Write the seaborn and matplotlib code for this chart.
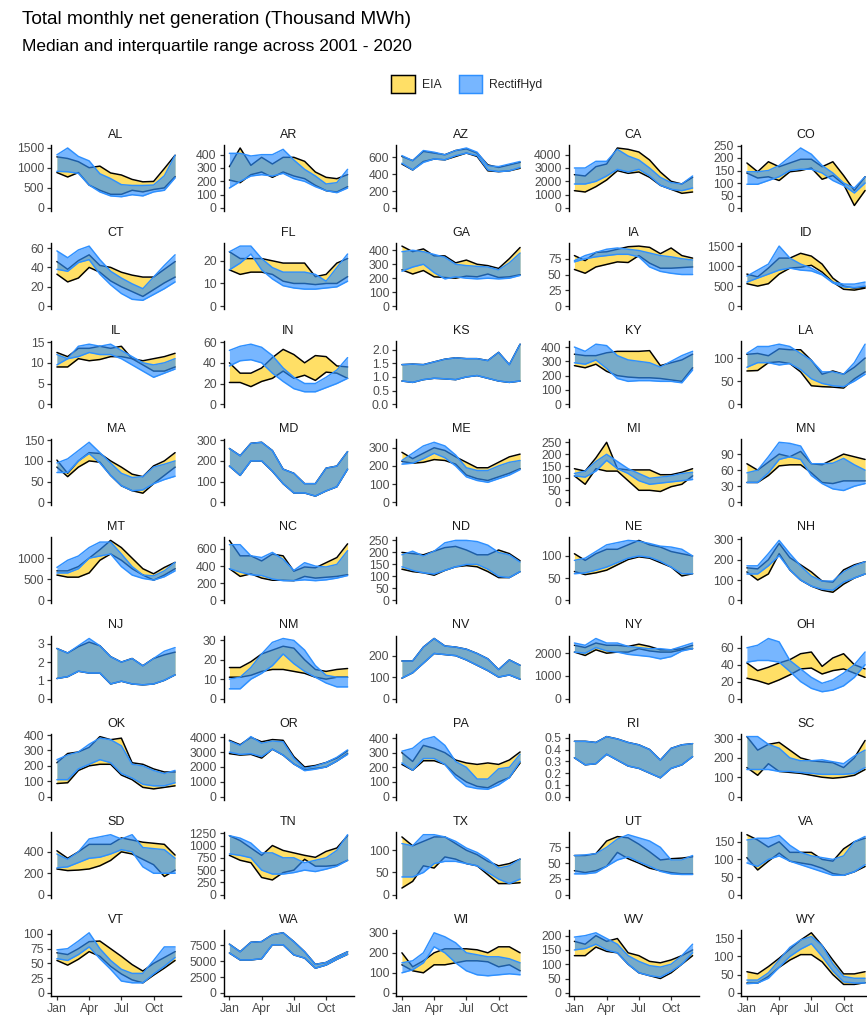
import numpy as np
import pandas as pd
import matplotlib
matplotlib.use("Agg")
import matplotlib.pyplot as plt
from matplotlib.colors import to_rgba
from matplotlib.patches import Patch
import seaborn as sns

# ---------------------------------------------------------------------------
# data: interquartile range (low / high) of monthly net generation, 2001-2020
# ---------------------------------------------------------------------------
MONTHS = list(range(1, 13))
MONTH_TICKS = [1, 4, 7, 10]
MONTH_LABELS = ["Jan", "Apr", "Jul", "Oct"]

STATES = ["AL", "AR", "AZ", "CA", "CO",
          "CT", "FL", "GA", "IA", "ID",
          "IL", "IN", "KS", "KY", "LA",
          "MA", "MD", "ME", "MI", "MN",
          "MT", "NC", "ND", "NE", "NH",
          "NJ", "NM", "NV", "NY", "OH",
          "OK", "OR", "PA", "RI", "SC",
          "SD", "TN", "TX", "UT", "VA",
          "VT", "WA", "WI", "WV", "WY"]

EIA_LO = {
    "AL": [880, 770, 880, 570, 440, 340, 340, 440, 400, 460, 500, 780],
    "AR": [210, 190, 250, 270, 230, 270, 240, 220, 170, 130, 120, 160],
    "AZ": [520, 450, 550, 580, 570, 610, 650, 610, 440, 430, 440, 470],
    "CA": [1300, 1200, 1600, 2100, 2800, 2600, 2700, 2300, 1700, 1400, 1100, 1200],
    "CO": [140, 120, 125, 110, 145, 150, 160, 115, 130, 95, 10, 70],
    "CT": [33, 25, 29, 40, 35, 26, 20, 15, 10, 17, 24, 30],
    "FL": [16, 14, 15, 15, 14, 11, 10, 10, 9.5, 10, 10, 13],
    "GA": [260, 230, 255, 210, 205, 200, 215, 210, 230, 205, 210, 225],
    "IA": [58, 52, 62, 66, 70, 69, 80, 68, 60, 60, 61, 62],
    "ID": [560, 500, 560, 800, 950, 970, 1020, 850, 600, 420, 400, 450],
    "IL": [9, 9, 11, 10.5, 10.8, 11.5, 11.5, 11, 9.5, 8, 8, 9],
    "IN": [21, 21, 17, 22, 25, 32, 25, 28, 23, 31, 30, 25],
    "KS": [0.85, 0.8, 0.9, 0.95, 0.93, 0.9, 1.0, 1.05, 0.95, 0.85, 0.8, 0.85],
    "KY": [270, 255, 280, 230, 200, 190, 185, 185, 180, 170, 160, 255],
    "LA": [72, 73, 90, 92, 88, 70, 40, 38, 37, 35, 55, 70],
    "MA": [85, 62, 85, 100, 97, 65, 40, 28, 22, 45, 65, 85],
    "MD": [175, 130, 200, 200, 150, 90, 45, 45, 30, 55, 75, 160],
    "ME": [225, 215, 220, 235, 230, 210, 150, 130, 120, 140, 160, 185],
    "MI": [110, 75, 140, 130, 130, 90, 50, 50, 45, 65, 75, 110],
    "MN": [37, 37, 50, 68, 70, 70, 55, 37, 35, 40, 40, 40],
    "MT": [600, 550, 550, 650, 950, 1100, 950, 750, 600, 480, 600, 750],
    "NC": [370, 280, 310, 260, 235, 235, 230, 280, 260, 270, 280, 300],
    "ND": [130, 120, 115, 105, 125, 140, 145, 140, 120, 95, 95, 120],
    "NE": [65, 58, 62, 68, 80, 92, 98, 95, 85, 75, 55, 60],
    "NH": [140, 100, 130, 230, 150, 100, 70, 50, 40, 80, 110, 130],
    "NJ": [1.1, 1.2, 1.5, 1.4, 1.4, 0.8, 0.95, 0.8, 0.75, 0.8, 1.0, 1.3],
    "NM": [11, 11, 12, 14, 15, 15, 14, 13, 11, 10, 11, 11],
    "NV": [95, 120, 165, 210, 205, 200, 180, 155, 130, 100, 110, 90],
    "NY": [2050, 1900, 2150, 2000, 2050, 2050, 2200, 2100, 2050, 2050, 2150, 2200],
    "OH": [24, 21, 17, 22, 28, 35, 36, 29, 33, 35, 30, 25],
    "OK": [85, 90, 170, 200, 210, 210, 140, 110, 60, 50, 60, 70],
    "OR": [2900, 2800, 2850, 2600, 3200, 2800, 2200, 1800, 1900, 2000, 2400, 2900],
    "PA": [220, 180, 245, 245, 220, 150, 100, 70, 60, 100, 130, 230],
    "RI": [0.33, 0.27, 0.28, 0.36, 0.31, 0.26, 0.24, 0.20, 0.16, 0.24, 0.27, 0.34],
    "SC": [150, 110, 170, 130, 125, 120, 110, 100, 95, 100, 110, 140],
    "SD": [240, 225, 230, 240, 270, 320, 400, 380, 330, 280, 170, 230],
    "TN": [800, 700, 650, 350, 300, 450, 500, 720, 580, 580, 600, 700],
    "TX": [15, 30, 65, 60, 85, 80, 70, 65, 45, 25, 25, 27],
    "UT": [38, 35, 38, 45, 67, 57, 50, 42, 38, 35, 33, 33],
    "VA": [105, 70, 95, 118, 95, 90, 85, 75, 60, 55, 65, 80],
    "VT": [55, 47, 57, 70, 62, 45, 32, 22, 17, 30, 42, 55],
    "WA": [6300, 5200, 5200, 5400, 7600, 7600, 6000, 5500, 3900, 4400, 5300, 6100],
    "WI": [140, 110, 100, 140, 140, 150, 160, 160, 155, 130, 140, 110],
    "WV": [130, 130, 160, 145, 140, 100, 70, 60, 50, 70, 100, 130],
    "WY": [27, 27, 45, 70, 90, 105, 105, 85, 50, 23, 23, 28],
}

EIA_HI = {
    "AL": [1270, 1230, 1150, 1000, 1040, 870, 820, 710, 650, 660, 980, 1310],
    "AR": [310, 450, 320, 380, 330, 380, 380, 350, 270, 230, 220, 250],
    "AZ": [610, 560, 670, 650, 630, 680, 700, 650, 510, 480, 510, 540],
    "CA": [2500, 2400, 3100, 3300, 4500, 4400, 4200, 3600, 2700, 2000, 1800, 2300],
    "CO": [180, 145, 185, 165, 180, 195, 195, 165, 185, 130, 70, 125],
    "CT": [46, 38, 47, 53, 42, 40, 35, 32, 30, 30, 38, 46],
    "FL": [24, 21, 21, 21, 20, 19, 19, 19, 13, 14, 19, 21],
    "GA": [430, 390, 410, 360, 360, 310, 330, 300, 290, 270, 340, 420],
    "IA": [80, 72, 85, 86, 90, 94, 95, 93, 83, 92, 80, 76],
    "ID": [800, 730, 950, 1200, 1200, 1320, 1250, 1050, 700, 500, 450, 480],
    "IL": [12.5, 11.5, 13.5, 13.5, 14, 13.5, 14, 11, 10.5, 11, 11.5, 12.3],
    "IN": [40, 30, 30, 35, 45, 53, 48, 40, 47, 46, 37, 36],
    "KS": [1.45, 1.47, 1.45, 1.55, 1.65, 1.7, 1.67, 1.67, 1.6, 1.9, 1.45, 2.2],
    "KY": [350, 340, 340, 360, 370, 370, 370, 375, 270, 290, 310, 350],
    "LA": [108, 110, 105, 120, 118, 118, 95, 65, 72, 65, 80, 100],
    "MA": [102, 70, 100, 120, 118, 100, 85, 68, 62, 88, 100, 120],
    "MD": [260, 225, 285, 290, 250, 160, 140, 90, 90, 165, 175, 245],
    "ME": [275, 240, 270, 300, 285, 250, 220, 190, 190, 220, 250, 265],
    "MI": [140, 130, 185, 250, 140, 135, 135, 135, 115, 115, 125, 140],
    "MN": [72, 60, 75, 90, 85, 95, 72, 70, 80, 90, 85, 80],
    "MT": [700, 700, 800, 1000, 1200, 1420, 1250, 1000, 750, 630, 780, 900],
    "NC": [700, 520, 520, 460, 540, 520, 340, 390, 380, 440, 500, 660],
    "ND": [200, 195, 190, 205, 220, 225, 210, 190, 190, 210, 195, 165],
    "NE": [105, 90, 105, 115, 115, 125, 135, 125, 120, 110, 105, 100],
    "NH": [160, 155, 200, 280, 210, 175, 140, 95, 90, 150, 175, 190],
    "NJ": [2.75, 2.5, 2.85, 3.1, 2.9, 2.3, 2.0, 2.2, 1.8, 2.2, 2.4, 2.55],
    "NM": [16, 16, 19, 23, 25, 27, 26, 20, 15, 14, 15, 15.5],
    "NV": [175, 175, 240, 280, 245, 240, 230, 210, 185, 135, 180, 155],
    "NY": [2350, 2250, 2450, 2350, 2350, 2300, 2400, 2300, 2150, 2150, 2200, 2350],
    "OH": [42, 33, 37, 42, 46, 53, 55, 38, 48, 53, 40, 35],
    "OK": [220, 280, 290, 320, 390, 370, 380, 220, 210, 180, 160, 160],
    "OR": [3800, 3500, 4000, 3700, 3850, 3800, 2700, 2000, 2100, 2300, 2600, 3100],
    "PA": [300, 240, 350, 330, 300, 250, 230, 220, 230, 220, 250, 305],
    "RI": [0.47, 0.47, 0.46, 0.51, 0.49, 0.46, 0.44, 0.40, 0.31, 0.41, 0.44, 0.45],
    "SC": [310, 240, 270, 280, 240, 200, 185, 180, 175, 150, 200, 290],
    "SD": [410, 340, 400, 470, 470, 470, 530, 510, 490, 480, 470, 370],
    "TN": [1200, 1100, 950, 800, 1000, 900, 850, 800, 760, 880, 950, 1200],
    "TX": [130, 110, 120, 130, 130, 115, 100, 90, 75, 65, 70, 80],
    "UT": [62, 62, 65, 85, 92, 90, 80, 68, 55, 57, 58, 60],
    "VA": [170, 155, 135, 150, 120, 120, 120, 100, 95, 130, 150, 160],
    "VT": [68, 65, 75, 87, 88, 75, 62, 48, 37, 50, 60, 70],
    "WA": [7700, 6500, 8000, 8100, 9200, 9500, 8100, 6500, 4500, 4800, 5700, 6500],
    "WI": [200, 130, 160, 200, 220, 220, 220, 215, 200, 230, 230, 200],
    "WV": [180, 170, 200, 180, 190, 140, 130, 110, 105, 115, 130, 150],
    "WY": [58, 52, 72, 95, 120, 145, 165, 130, 90, 52, 52, 58],
}

RH_LO = {
    "AL": [910, 900, 860, 570, 400, 300, 280, 330, 300, 400, 440, 750],
    "AR": [150, 200, 240, 250, 240, 260, 220, 200, 160, 130, 115, 150],
    "AZ": [530, 450, 540, 580, 570, 620, 650, 620, 450, 430, 440, 480],
    "CA": [1800, 1800, 2000, 2400, 2900, 2700, 2900, 2400, 1700, 1400, 1300, 1500],
    "CO": [95, 95, 110, 125, 150, 155, 155, 140, 110, 90, 60, 100],
    "CT": [38, 36, 45, 48, 33, 22, 13, 7, 6, 12, 18, 25],
    "FL": [16, 19, 23, 16, 12, 9, 8, 7.5, 7.5, 8, 8.5, 11],
    "GA": [250, 280, 300, 240, 195, 210, 200, 195, 200, 195, 200, 220],
    "IA": [70, 75, 78, 80, 82, 82, 78, 62, 55, 52, 50, 50],
    "ID": [600, 700, 800, 900, 950, 900, 880, 780, 580, 480, 460, 500],
    "IL": [9.5, 11, 11.5, 12.5, 12, 12, 11, 9.5, 8, 6.5, 7.5, 8.5],
    "IN": [37, 42, 43, 40, 30, 22, 15, 12, 12, 16, 20, 25],
    "KS": [0.85, 0.8, 0.9, 0.95, 0.93, 0.9, 1.0, 1.05, 0.95, 0.85, 0.8, 0.85],
    "KY": [290, 280, 310, 250, 180, 160, 165, 165, 160, 160, 150, 240],
    "LA": [80, 90, 90, 85, 88, 75, 55, 45, 40, 38, 50, 65],
    "MA": [72, 72, 100, 118, 95, 65, 40, 28, 30, 45, 55, 63],
    "MD": [175, 130, 200, 200, 150, 90, 45, 45, 30, 55, 75, 160],
    "ME": [210, 215, 240, 270, 245, 200, 140, 120, 110, 130, 150, 180],
    "MI": [110, 105, 130, 175, 140, 120, 90, 75, 80, 85, 90, 95],
    "MN": [37, 37, 55, 80, 85, 80, 50, 35, 25, 22, 30, 35],
    "MT": [650, 650, 750, 1000, 1050, 1100, 800, 600, 520, 480, 560, 700],
    "NC": [370, 330, 300, 290, 250, 230, 230, 240, 230, 240, 260, 290],
    "ND": [140, 125, 115, 110, 125, 140, 150, 150, 130, 100, 95, 120],
    "NE": [60, 62, 68, 75, 85, 95, 100, 97, 88, 75, 60, 60],
    "NH": [130, 130, 170, 220, 150, 100, 70, 55, 50, 90, 110, 130],
    "NJ": [1.1, 1.2, 1.5, 1.4, 1.4, 0.8, 0.95, 0.8, 0.75, 0.8, 1.0, 1.3],
    "NM": [5, 5, 10, 13, 17, 23, 18, 14, 11, 8, 6, 6],
    "NV": [95, 120, 165, 210, 205, 200, 180, 155, 130, 100, 110, 90],
    "NY": [2050, 2000, 2250, 2100, 2050, 1950, 1900, 1850, 1750, 1850, 2100, 2200],
    "OH": [43, 45, 45, 43, 32, 20, 12, 8, 10, 15, 25, 40],
    "OK": [110, 110, 180, 210, 240, 220, 150, 120, 80, 70, 70, 90],
    "OR": [3000, 2850, 2900, 2700, 3200, 2800, 2200, 1750, 1850, 2000, 2400, 2850],
    "PA": [230, 180, 260, 260, 220, 130, 70, 55, 50, 80, 130, 240],
    "RI": [0.33, 0.27, 0.28, 0.36, 0.31, 0.26, 0.24, 0.20, 0.16, 0.24, 0.27, 0.34],
    "SC": [140, 140, 140, 130, 130, 125, 120, 115, 115, 115, 120, 150],
    "SD": [250, 260, 300, 340, 350, 380, 420, 400, 260, 200, 200, 200],
    "TN": [830, 800, 750, 500, 420, 420, 450, 500, 470, 520, 580, 700],
    "TX": [40, 40, 50, 70, 75, 75, 70, 65, 50, 35, 25, 35],
    "UT": [33, 33, 35, 45, 55, 60, 52, 45, 37, 33, 32, 32],
    "VA": [90, 80, 100, 110, 95, 85, 75, 65, 55, 55, 65, 85],
    "VT": [58, 55, 65, 78, 58, 40, 20, 17, 17, 32, 45, 60],
    "WA": [6300, 5200, 5200, 5400, 7600, 7600, 6000, 5500, 3900, 4400, 5300, 6100],
    "WI": [100, 115, 150, 230, 200, 150, 110, 90, 85, 90, 95, 90],
    "WV": [150, 155, 170, 150, 140, 100, 70, 60, 55, 75, 100, 140],
    "WY": [25, 27, 40, 70, 100, 120, 135, 100, 60, 30, 27, 27],
}

RH_HI = {
    "AL": [1320, 1490, 1280, 1170, 850, 730, 580, 560, 560, 570, 800, 1310],
    "AR": [410, 410, 390, 400, 400, 440, 360, 290, 240, 180, 190, 290],
    "AZ": [620, 560, 680, 660, 630, 680, 710, 660, 500, 490, 520, 550],
    "CA": [3000, 3000, 3500, 3500, 4400, 3900, 3600, 3000, 2300, 1900, 1800, 2400],
    "CO": [145, 145, 150, 170, 205, 240, 215, 170, 140, 100, 80, 125],
    "CT": [57, 50, 58, 62, 48, 36, 29, 23, 18, 30, 42, 53],
    "FL": [24, 26.5, 26.5, 21, 17, 15, 15, 15, 14, 11, 17, 23],
    "GA": [390, 400, 390, 370, 350, 300, 290, 285, 280, 260, 310, 380],
    "IA": [72, 80, 85, 90, 92, 90, 88, 84, 80, 78, 75, 73],
    "ID": [750, 900, 1050, 1500, 1200, 1050, 950, 800, 600, 550, 550, 600],
    "IL": [12, 11, 14, 14.5, 14, 14.5, 13, 11.5, 10, 9.5, 10, 11],
    "IN": [52, 56, 58, 55, 47, 35, 26, 20, 20, 26, 33, 45],
    "KS": [1.45, 1.47, 1.45, 1.55, 1.65, 1.7, 1.67, 1.67, 1.6, 1.9, 1.45, 2.2],
    "KY": [400, 370, 420, 410, 340, 310, 300, 290, 260, 300, 340, 370],
    "LA": [110, 125, 125, 130, 125, 110, 95, 70, 70, 65, 90, 130],
    "MA": [95, 105, 125, 145, 120, 95, 70, 60, 62, 85, 92, 100],
    "MD": [260, 225, 285, 290, 250, 160, 140, 90, 90, 165, 175, 245],
    "ME": [230, 270, 310, 330, 310, 260, 190, 175, 175, 200, 220, 230],
    "MI": [120, 130, 170, 200, 170, 140, 120, 100, 105, 110, 120, 125],
    "MN": [55, 60, 85, 112, 110, 105, 72, 72, 73, 82, 70, 60],
    "MT": [780, 950, 1050, 1250, 1380, 1380, 1100, 800, 600, 580, 700, 900],
    "NC": [650, 650, 520, 500, 560, 480, 350, 440, 400, 390, 420, 580],
    "ND": [190, 205, 185, 205, 240, 250, 250, 245, 230, 200, 190, 160],
    "NE": [90, 95, 110, 125, 130, 135, 133, 128, 122, 120, 115, 100],
    "NH": [170, 170, 230, 295, 230, 170, 120, 95, 95, 140, 170, 190],
    "NJ": [2.75, 2.5, 2.9, 3.3, 2.9, 2.3, 2.0, 2.2, 1.8, 2.2, 2.6, 2.8],
    "NM": [10, 11, 16, 23, 29, 31, 30, 25, 17, 12, 11, 11],
    "NV": [175, 175, 240, 280, 245, 240, 230, 210, 185, 135, 180, 155],
    "NY": [2450, 2350, 2650, 2450, 2450, 2300, 2250, 2200, 2200, 2150, 2300, 2450],
    "OH": [60, 63, 71, 67, 45, 35, 25, 18, 22, 30, 40, 55],
    "OK": [240, 270, 290, 340, 380, 370, 330, 210, 200, 170, 150, 170],
    "OR": [3750, 3450, 4050, 3600, 3750, 3700, 2600, 1900, 2050, 2300, 2650, 3150],
    "PA": [310, 330, 390, 410, 350, 240, 200, 120, 120, 190, 200, 290],
    "RI": [0.47, 0.47, 0.46, 0.51, 0.49, 0.46, 0.44, 0.40, 0.31, 0.41, 0.44, 0.45],
    "SC": [310, 310, 270, 250, 200, 185, 185, 190, 180, 170, 210, 240],
    "SD": [380, 330, 400, 520, 540, 560, 520, 560, 440, 430, 420, 340],
    "TN": [1200, 1150, 1050, 850, 850, 750, 750, 650, 700, 750, 900, 1220],
    "TX": [115, 110, 135, 135, 130, 120, 105, 95, 80, 60, 65, 80],
    "UT": [62, 63, 65, 75, 88, 95, 90, 85, 75, 55, 55, 62],
    "VA": [155, 160, 160, 168, 140, 120, 110, 105, 100, 110, 150, 165],
    "VT": [73, 75, 88, 102, 75, 55, 40, 33, 33, 55, 78, 78],
    "WA": [7700, 6500, 8000, 8100, 9200, 9500, 8100, 6500, 4500, 4800, 5700, 6500],
    "WI": [150, 160, 200, 300, 280, 250, 200, 190, 180, 180, 170, 150],
    "WV": [195, 200, 210, 190, 170, 130, 110, 95, 90, 100, 130, 170],
    "WY": [35, 35, 55, 90, 125, 145, 155, 130, 80, 45, 40, 40],
}

# y-axis break spacing of each free-scaled panel
YSTEP = {
    "AL": 500, "AR": 100, "AZ": 200, "CA": 1000, "CO": 50,
    "CT": 20, "FL": 10, "GA": 100, "IA": 25, "ID": 500,
    "IL": 5, "IN": 20, "KS": 0.5, "KY": 100, "LA": 50,
    "MA": 50, "MD": 100, "ME": 100, "MI": 50, "MN": 30,
    "MT": 500, "NC": 200, "ND": 50, "NE": 50, "NH": 100,
    "NJ": 1, "NM": 10, "NV": 100, "NY": 1000, "OH": 20,
    "OK": 100, "OR": 1000, "PA": 100, "RI": 0.1, "SC": 100,
    "SD": 200, "TN": 250, "TX": 50, "UT": 25, "VA": 50,
    "VT": 25, "WA": 2500, "WI": 100, "WV": 50, "WY": 50,
}

YELLOW = "#FFDF66"
BLUE = "#2E90FF"
BLUE_ALPHA = 0.65

# ---------------------------------------------------------------------------
W, H = 867, 1015
sns.set_theme(style="white")
plt.rcParams["font.family"] = ["Liberation Sans", "DejaVu Sans"]

fig = plt.figure(figsize=(W / 100, H / 100), dpi=100)

# panel geometry in pixels (facet_wrap, 5 columns, right column runs off the canvas)
COL_X0, COL_PITCH, PANEL_W = 51, 172.5, 130
ROW_Y0, ROW_PITCH, PANEL_H = 145, 98.1, 66


def ribbon(ax, lo, hi, fill, alpha, edge, z):
    ax.fill_between(MONTHS, lo, hi, color=fill, alpha=alpha, lw=0, zorder=z)
    d = pd.DataFrame({"month": MONTHS * 2,
                      "value": list(lo) + list(hi),
                      "edge": ["lo"] * 12 + ["hi"] * 12})
    sns.lineplot(data=d, x="month", y="value", units="edge", estimator=None,
                 color=edge, lw=1.07, zorder=z + 0.5, ax=ax)


for i, st in enumerate(STATES):
    r, c = divmod(i, 5)
    left = COL_X0 + c * COL_PITCH
    top = ROW_Y0 + r * ROW_PITCH
    ax = fig.add_axes([left / W, 1 - (top + PANEL_H) / H, PANEL_W / W, PANEL_H / H])

    ribbon(ax, EIA_LO[st], EIA_HI[st], YELLOW, 1.0, "black", 1)
    ribbon(ax, RH_LO[st], RH_HI[st], BLUE, BLUE_ALPHA, BLUE, 3)

    ymax = max(max(EIA_HI[st]), max(RH_HI[st]))
    ax.set_xlim(0.45, 12.55)
    ax.set_ylim(-0.05 * ymax, 1.05 * ymax)

    step = YSTEP[st]
    ticks = np.arange(0, 1.05 * ymax + 1e-9, step)
    ax.set_yticks(ticks)
    if step < 1:
        ax.set_yticklabels([f"{t:.1f}" for t in ticks])
    else:
        ax.set_yticklabels([f"{t:g}" for t in ticks])

    ax.set_xlabel("")
    ax.set_ylabel("")
    for side in ["top", "right"]:
        ax.spines[side].set_visible(False)
    ax.spines["left"].set_color("black")
    ax.spines["left"].set_linewidth(1.0)
    ax.tick_params(axis="y", length=2.75, width=0.9, color="#333333",
                   labelcolor="#4D4D4D", labelsize=8.8, pad=2.2, left=True)

    if r == 8:
        ax.spines["bottom"].set_color("black")
        ax.spines["bottom"].set_linewidth(1.0)
        ax.set_xticks(MONTH_TICKS)
        ax.set_xticklabels(MONTH_LABELS)
        ax.tick_params(axis="x", length=2.75, width=0.9, color="#333333",
                       labelcolor="#4D4D4D", labelsize=8.8, pad=2.2, bottom=True)
    else:
        ax.spines["bottom"].set_visible(False)
        ax.set_xticks([])

    fig.text((left + PANEL_W / 2) / W, 1 - (top - 10) / H, st,
             ha="center", va="center", fontsize=9, color="#1A1A1A")

fig.text(22 / W, 1 - 19 / H, "Total monthly net generation (Thousand MWh)",
         ha="left", va="center", fontsize=13.7, color="black")
fig.text(22 / W, 1 - 46 / H, "Median and interquartile range across 2001 - 2020",
         ha="left", va="center", fontsize=12.5, color="black")

handles = [Patch(facecolor=YELLOW, edgecolor="black", lw=1.07),
           Patch(facecolor=to_rgba(BLUE, BLUE_ALPHA), edgecolor=BLUE, lw=1.07)]
fig.legend(handles, ["EIA", "RectifHyd"], loc="center",
           bbox_to_anchor=(467 / W, 1 - 84 / H), ncol=2, frameon=False,
           fontsize=8.8, handlelength=1.9, handleheight=1.9,
           handletextpad=0.6, columnspacing=1.4)

fig.savefig("out.png", dpi=100)
